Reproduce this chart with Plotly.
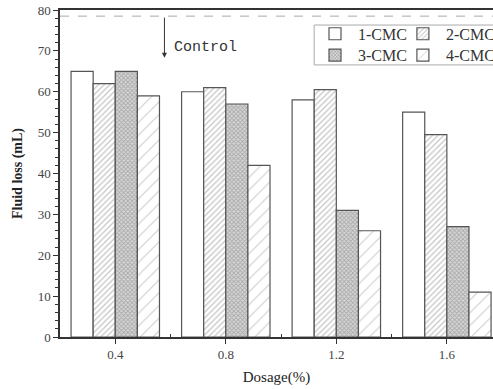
import plotly.graph_objects as go

dosage = [0.4, 0.8, 1.2, 1.6]
series_names = ["1-CMC", "2-CMC", "3-CMC", "4-CMC"]
cmc1 = [65, 60, 58, 55]
cmc2 = [62, 61, 60.5, 49.5]
cmc3 = [65, 57, 31, 27]
cmc4 = [59, 42, 26, 11]
control_value = 78.5
x_ticks = [0.4, 0.8, 1.2, 1.6]
x_ticklabels = ["0.4", "0.8", "1.2", "1.6"]

values = [cmc1, cmc2, cmc3, cmc4]
patterns = [
    dict(shape=""),
    dict(shape="/", size=4, solidity=0.3, fgcolor="#8a8a8a", bgcolor="white", fillmode="overlay"),
    dict(shape="x", size=3, solidity=0.5, fgcolor="#7a7a7a", bgcolor="#d8d8d8", fillmode="overlay"),
    dict(shape="/", size=9, solidity=0.12, fgcolor="#9a9a9a", bgcolor="white", fillmode="overlay"),
]
legend_ids = ["legend2", "legend3", "legend4", "legend5"]

fig = go.Figure()
for name, vals, pat, lg in zip(series_names, values, patterns, legend_ids):
    fig.add_trace(go.Bar(
        x=dosage, y=vals, name=name, legend=lg,
        marker=dict(color="white", line=dict(color="#555555", width=1.2), pattern=pat),
    ))

fig.add_shape(type="line", xref="paper", yref="y", x0=0, x1=1, y0=control_value, y1=control_value,
              line=dict(color="#aaaaaa", width=1, dash="dash"))
# legend frame
fig.add_shape(type="rect", xref="paper", yref="paper", x0=0.587, x1=1.05, y0=0.832, y1=0.954,
              line=dict(color="#aaaaaa", width=1), fillcolor="white", layer="below")
fig.add_annotation(x=0.578, y=68.3, ax=0.578, ay=control_value, xref="x", yref="y", axref="x", ayref="y",
                   showarrow=True, arrowhead=2, arrowsize=1, arrowwidth=1, arrowcolor="#333333", text="")
fig.add_annotation(x=0.607, y=70.8, xref="x", yref="y", text="Control", showarrow=False, xanchor="left",
                   font=dict(family="Liberation Mono", size=15, color="#333333"))

legend_common = dict(orientation="v", yanchor="middle", xanchor="left", borderwidth=0,
                     bgcolor="rgba(0,0,0,0)", itemwidth=36, tracegroupgap=0,
                     font=dict(family="Liberation Serif", size=16, color="#333333"))

fig.update_layout(
    width=493, height=389,
    margin=dict(l=60, r=0, t=10, b=52, autoexpand=False),
    plot_bgcolor="white", paper_bgcolor="white",
    barmode="group", bargap=0.2, bargroupgap=0,
    font=dict(family="Liberation Serif", size=13, color="#333333"),
    showlegend=True,
    legend2=dict(x=0.582, y=0.927, **legend_common),
    legend3=dict(x=0.785, y=0.927, **legend_common),
    legend4=dict(x=0.582, y=0.862, **legend_common),
    legend5=dict(x=0.785, y=0.862, **legend_common),
    xaxis=dict(range=[0.2, 1.767], tickvals=x_ticks, ticktext=x_ticklabels,
               showline=True, linecolor="#333333", linewidth=1.5, mirror=True,
               ticks="outside", ticklen=5, tickcolor="#333333", showgrid=False, zeroline=False,
               minor=dict(tickvals=[0.6, 1.0, 1.4], ticks="inside", ticklen=3, tickcolor="#333333"),
               title=dict(text="Dosage(%)", font=dict(family="Liberation Serif", size=15, color="#222222"), standoff=10),
               tickfont=dict(family="Liberation Serif", size=13, color="#444444")),
    yaxis=dict(range=[0, 80], dtick=10, showline=True, linecolor="#333333", linewidth=1.5, mirror=False,
               ticks="outside", ticklen=5, tickcolor="#333333", showgrid=False, zeroline=False,
               minor=dict(dtick=2, ticks="outside", ticklen=3, tickcolor="#333333"),
               title=dict(text="<b>Fluid loss (mL)</b>", font=dict(family="Liberation Serif", size=14, color="#222222"), standoff=12),
               tickfont=dict(family="Liberation Serif", size=13, color="#444444")),
)

fig.write_html("out.html", config={"displayModeBar": False},
               post_script="document.body.style.margin='0';")
